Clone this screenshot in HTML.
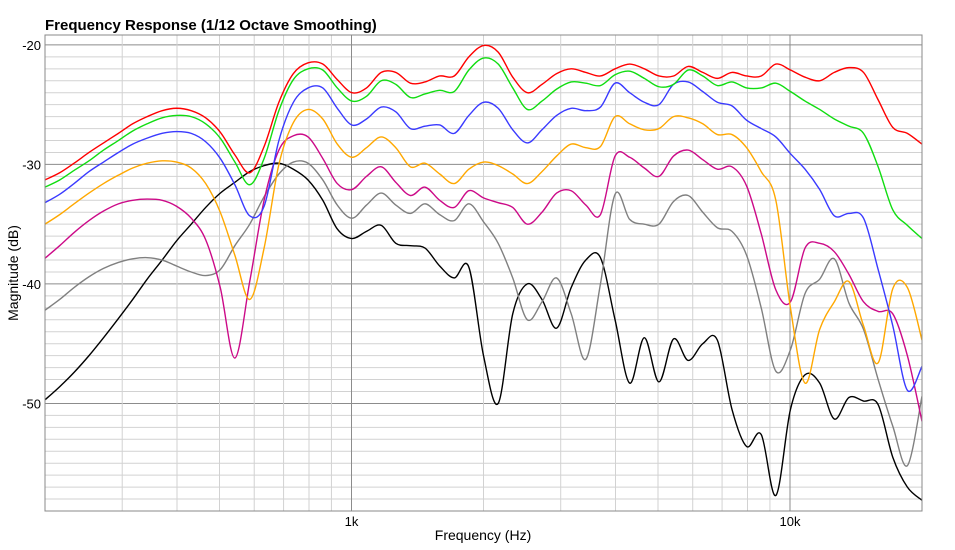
<!DOCTYPE html>
<html><head><meta charset="utf-8">
<style>
html,body{margin:0;padding:0;background:#fff;}
svg{display:block;font-family:"Liberation Sans",Arial,sans-serif;}
</style></head>
<body>
<svg id="chart" width="955" height="550" viewBox="0 0 955 550" xmlns="http://www.w3.org/2000/svg">
  <text x="45" y="30" font-size="15" font-weight="bold" fill="#000">Frequency Response (1/12 Octave Smoothing)</text>
  <g id="grid"></g>
  <g id="yticks"></g>
  <g id="xticks"></g>
  <g id="series"></g>
  <rect x="45" y="35" width="877" height="476" fill="none" stroke="#888" stroke-width="1"/>
  <text x="483" y="540" font-size="14" text-anchor="middle" fill="#000">Frequency (Hz)</text>
  <text x="0" y="0" font-size="14" text-anchor="middle" fill="#000" transform="translate(18,273) rotate(-90)">Magnitude (dB)</text>
</svg>
<script>
const freqs = [200,216,233,252,272,294,317,342,370,399,431,465,502,542,586,632,683,737,796,860,928,1002,1082,1169,1262,1363,1471,1589,1715,1852,2000,2160,2332,2518,2719,2936,3170,3423,3696,3991,4309,4653,5024,5425,5857,6325,6829,7374,7962,8597,9283,10024,10823,11687,12619,13626,14713,15887,17154,18522,20000];
const redVals = [-31.3,-30.7,-29.9,-29.0,-28.2,-27.4,-26.6,-26.0,-25.5,-25.3,-25.5,-26.1,-27.3,-29.2,-30.7,-28.5,-24.8,-22.4,-21.5,-21.6,-22.9,-24.0,-23.6,-22.3,-22.3,-23.2,-23.1,-22.6,-22.6,-21.0,-20.05,-20.6,-22.7,-24.0,-23.3,-22.4,-22.0,-22.3,-22.6,-22.0,-21.6,-22.0,-22.6,-22.6,-21.8,-22.3,-22.8,-22.3,-22.6,-22.6,-21.6,-22.1,-22.7,-23.0,-22.3,-21.9,-22.3,-24.6,-26.9,-27.4,-28.3];
const greenVals = [-31.9,-31.3,-30.5,-29.7,-28.8,-28.0,-27.2,-26.6,-26.1,-25.9,-26.0,-26.6,-27.8,-29.8,-31.7,-29.5,-25.5,-22.9,-22.0,-22.1,-23.6,-24.7,-24.3,-23.0,-23.3,-24.4,-24.1,-23.8,-23.9,-22.1,-21.1,-21.6,-23.6,-25.4,-24.7,-23.7,-23.1,-23.2,-23.4,-22.5,-22.2,-22.8,-23.5,-23.3,-22.1,-22.6,-23.4,-23.1,-23.6,-23.6,-23.2,-23.9,-24.7,-25.4,-26.2,-26.8,-27.4,-30.2,-33.8,-35.1,-36.2];
const blueVals = [-33.2,-32.5,-31.6,-30.6,-29.8,-29.0,-28.3,-27.8,-27.4,-27.25,-27.4,-28.1,-29.5,-31.7,-34.3,-33.5,-28.0,-24.8,-23.6,-23.6,-25.3,-26.7,-26.2,-25.2,-25.6,-27.0,-26.8,-26.7,-27.4,-25.9,-24.8,-25.3,-27.1,-28.2,-27.1,-25.9,-25.3,-25.5,-25.2,-23.2,-24.0,-24.8,-25.0,-23.3,-23.1,-23.9,-24.8,-25.1,-26.3,-27.0,-27.7,-29.1,-30.4,-32.1,-34.3,-34.1,-34.5,-38.8,-43.5,-48.9,-46.9];
const orangeVals = [-35.0,-34.2,-33.3,-32.4,-31.6,-30.9,-30.3,-29.9,-29.7,-29.8,-30.3,-31.6,-34.0,-37.6,-41.3,-37.0,-30.0,-26.5,-25.4,-26.2,-28.3,-29.4,-28.6,-27.7,-28.6,-30.2,-29.9,-30.8,-31.6,-30.4,-29.8,-30.1,-30.8,-31.6,-30.6,-29.3,-28.3,-28.6,-28.5,-26.0,-26.6,-27.1,-27.0,-26.0,-26.1,-26.6,-27.5,-27.5,-28.6,-30.6,-33.0,-42.0,-48.3,-43.8,-41.5,-39.8,-43.5,-46.6,-40.4,-40.3,-44.7];
const magentaVals = [-37.85,-36.8,-35.7,-34.7,-33.9,-33.3,-33.0,-32.9,-33.0,-33.5,-34.5,-36.3,-40.3,-46.2,-39.8,-33.0,-28.8,-27.6,-27.7,-29.5,-31.6,-32.1,-31.0,-30.2,-31.5,-32.6,-31.9,-33.0,-33.6,-32.2,-32.8,-33.2,-33.6,-35.0,-34.0,-32.4,-32.2,-33.4,-34.2,-29.3,-29.4,-30.3,-31.0,-29.3,-28.8,-29.6,-30.4,-30.2,-31.8,-35.8,-40.5,-41.5,-37.0,-36.6,-37.3,-39.2,-41.5,-42.3,-42.5,-46.0,-51.5];
const grayVals = [-42.2,-41.3,-40.3,-39.4,-38.7,-38.2,-37.9,-37.8,-38.0,-38.5,-39.0,-39.3,-38.8,-36.8,-35.0,-32.7,-30.8,-29.8,-29.9,-31.3,-33.4,-34.5,-33.4,-32.4,-33.4,-34.1,-33.3,-34.2,-34.7,-33.3,-34.8,-36.6,-39.5,-43.0,-41.5,-39.5,-42.5,-46.3,-40.0,-32.5,-34.6,-35.0,-35.0,-33.1,-32.6,-34.0,-35.3,-35.6,-37.6,-42.0,-47.3,-45.5,-40.8,-39.6,-37.9,-41.6,-43.8,-48.0,-51.9,-55.2,-49.4];
const blackVals = [-49.7,-48.6,-47.4,-46.0,-44.5,-42.9,-41.3,-39.6,-38.0,-36.4,-35.0,-33.6,-32.4,-31.5,-30.6,-30.1,-29.9,-30.4,-31.3,-33.0,-35.4,-36.2,-35.6,-35.1,-36.6,-36.8,-37.0,-38.5,-39.5,-38.6,-46.0,-50.0,-42.5,-40.0,-41.3,-43.7,-40.3,-38.0,-37.8,-43.0,-48.3,-44.5,-48.2,-44.6,-46.4,-45.0,-44.7,-50.5,-53.6,-52.6,-57.7,-50.5,-47.6,-48.3,-51.3,-49.5,-49.8,-50.1,-54.5,-57.0,-58.1];
const yTickVals = [-20,-30,-40,-50];
const yTickLabels = ["-20","-30","-40","-50"];
const xTickVals = [1000,10000];
const xTickLabels = ["1k","10k"];
const xMinorVals = [300,400,500,600,700,800,900,2000,3000,4000,5000,6000,7000,8000,9000];

const PL=45, PR=922, PT=35, PB=511;
const FMIN=200, FMAX=20000, DBMIN=-59.0, DBMAX=-19.17;
function xs(f){return PL+(Math.log10(f)-Math.log10(FMIN))/(Math.log10(FMAX)-Math.log10(FMIN))*(PR-PL);}
function ys(d){return PT+(DBMAX-d)/(DBMAX-DBMIN)*(PB-PT);}
const NS="http://www.w3.org/2000/svg";
function mk(tag,attrs,parent){const e=document.createElementNS(NS,tag);for(const k in attrs)e.setAttribute(k,attrs[k]);parent.appendChild(e);return e;}
const grid=document.getElementById('grid');
for(let d=-59; d<=-20; d++){
  const major = d%10===0;
  const l=mk('line',{x1:PL,x2:PR,y1:ys(d),y2:ys(d),stroke:major?'#8c8c8c':'#d2d2d2','stroke-width':1},grid);
  
  
}
xMinorVals.forEach(f=>{
  const l=mk('line',{x1:xs(f),x2:xs(f),y1:PT,y2:PB,stroke:'#d2d2d2','stroke-width':1},grid);
  
  
});
xTickVals.forEach(f=>{
  const l=mk('line',{x1:xs(f),x2:xs(f),y1:PT,y2:PB,stroke:'#8c8c8c','stroke-width':1},grid);
  
  
});
const yt=document.getElementById('yticks');
yTickVals.forEach((v,i)=>{
  const t=mk('text',{x:41,y:ys(v)+5,'font-size':13,'text-anchor':'end',fill:'#000'},yt);
  t.textContent=yTickLabels[i];
  
  
});
const xt=document.getElementById('xticks');
xTickVals.forEach((v,i)=>{
  const t=mk('text',{x:xs(v),y:526,'font-size':13,'text-anchor':'middle',fill:'#000'},xt);
  t.textContent=xTickLabels[i];
  
  
});
function pathFor(vals){
  const p=vals.map((v,i)=>[xs(freqs[i]),ys(v)]);
  let d='M'+p[0][0].toFixed(2)+','+p[0][1].toFixed(2);
  for(let i=0;i<p.length-1;i++){
    const p0=p[Math.max(0,i-1)],p1=p[i],p2=p[i+1],p3=p[Math.min(p.length-1,i+2)];
    const c1x=p1[0]+(p2[0]-p0[0])/6,c1y=p1[1]+(p2[1]-p0[1])/6;
    const c2x=p2[0]-(p3[0]-p1[0])/6,c2y=p2[1]-(p3[1]-p1[1])/6;
    d+=' C'+c1x.toFixed(2)+','+c1y.toFixed(2)+' '+c2x.toFixed(2)+','+c2y.toFixed(2)+' '+p2[0].toFixed(2)+','+p2[1].toFixed(2);
  }
  return d;
}
const sg=document.getElementById('series');
const clip=mk('clipPath',{id:'plotclip'},sg);
mk('rect',{x:PL,y:PT,width:PR-PL,height:PB-PT},clip);
const seriesList=[
  ['series-black',blackVals,'#000000'],
  ['series-gray',grayVals,'#808080'],
  ['series-magenta',magentaVals,'#cc0a88'],
  ['series-orange',orangeVals,'#ffa800'],
  ['series-blue',blueVals,'#3a3aff'],
  ['series-green',greenVals,'#10dd10'],
  ['series-red',redVals,'#ff0000']
];
seriesList.forEach(s=>{
  const p=mk('path',{d:pathFor(s[1]),fill:'none',stroke:s[2],'stroke-width':1.4,'clip-path':'url(#plotclip)'},sg);
  
  
});
</script>
</body></html>
